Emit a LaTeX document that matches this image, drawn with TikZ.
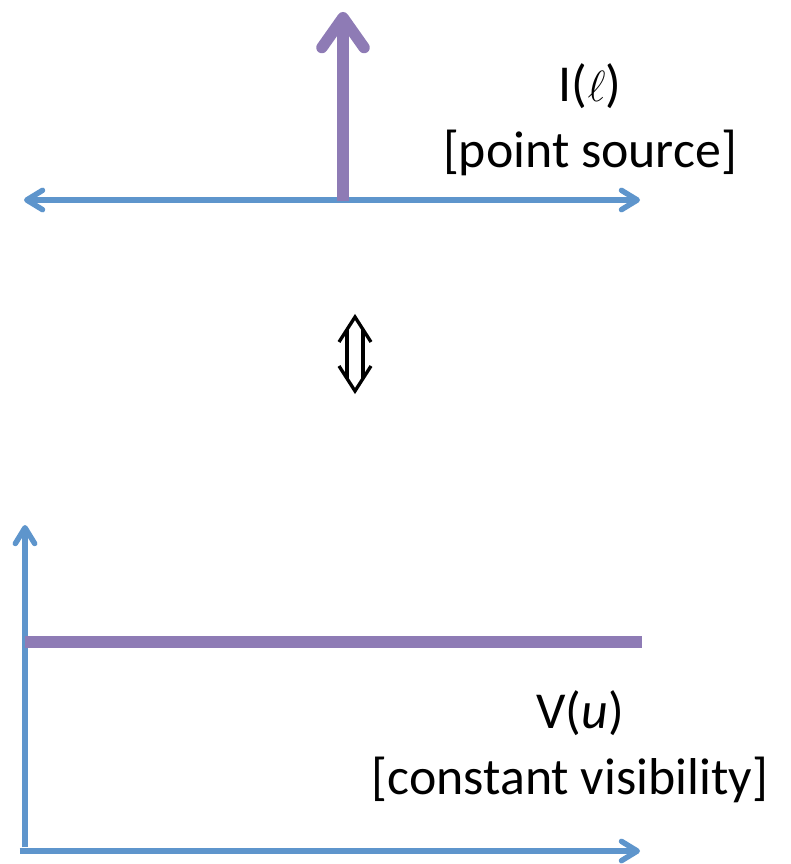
\documentclass[tikz,border=0pt]{standalone}
\usepackage{fontspec}
\setmainfont{Carlito}
\usetikzlibrary{arrows.meta}
\definecolor{SKblue}{HTML}{5E95CC}
\definecolor{SKpurple}{HTML}{8E7BB5}
\tikzset{
  skaxis/.style={line width=3.1pt, draw=SKblue},
  skaxarr/.style={-{Straight Barb[length=9pt,width=11pt,round]}, skaxis},
  skaxarrb/.style={{Straight Barb[length=9pt,width=11pt,round]}-{Straight Barb[length=9pt,width=11pt,round]}, skaxis},
  skfunc/.style={line width=6.5pt, draw=SKpurple},
  skdelta/.style={-{Straight Barb[length=17pt,width=24pt,round]}, skfunc},
  skequiv/.style={line width=1.9pt, draw=black},
  sklbl/.style={font=\fontsize{29.5}{36}\selectfont, text=black, inner sep=0pt, anchor=base},
}
\begin{document}
\begin{tikzpicture}[x=0.02cm, y=-0.02cm]
  \useasboundingbox (0,0) rectangle (790,864);
  %% Top: point source
  \coordinate (ltop) at (24,200);
  \coordinate (rtop) at (640,200);
  \coordinate (src) at (343,201);
  \coordinate (peak) at (343,12);
  \draw[skaxarrb] (ltop) -- (rtop);
  \draw[skdelta] (src) -- (peak);
  \node[sklbl] (Ilbl) at (590,102) {I($\ell$)};
  \node[sklbl] (Inote) at (590,168) {[point source]};
  %% Middle: equivalence
  \coordinate (eq) at (355,354);
  \draw[skequiv] ([shift={(-16,-12)}]eq) -- ([shift={(0,-37)}]eq) -- ([shift={(16,-12)}]eq);
  \draw[skequiv] ([shift={(-16,12)}]eq) -- ([shift={(0,37)}]eq) -- ([shift={(16,12)}]eq);
  \draw[skequiv] ([shift={(-8,-25)}]eq) -- ([shift={(-8,25)}]eq);
  \draw[skequiv] ([shift={(8,-25)}]eq) -- ([shift={(8,25)}]eq);
  %% Bottom: constant visibility
  \coordinate (orig) at (25,851);
  \coordinate (ytip) at (25,525);
  \coordinate (xtip) at (640,851);
  \coordinate (vl) at (25,642);
  \coordinate (vr) at (642,642);
  \draw[skaxarr] ([xshift=-3]orig) -- (xtip);
  \draw[skaxarr] ([yshift=2]orig) -- (ytip);
  \draw[skfunc] (vl) -- (vr);
  \node[sklbl] (Vlbl) at (580,728) {V(\textit{u})};
  \node[sklbl] (Vnote) at (570,794) {[constant visibility]};
\end{tikzpicture}
\end{document}
